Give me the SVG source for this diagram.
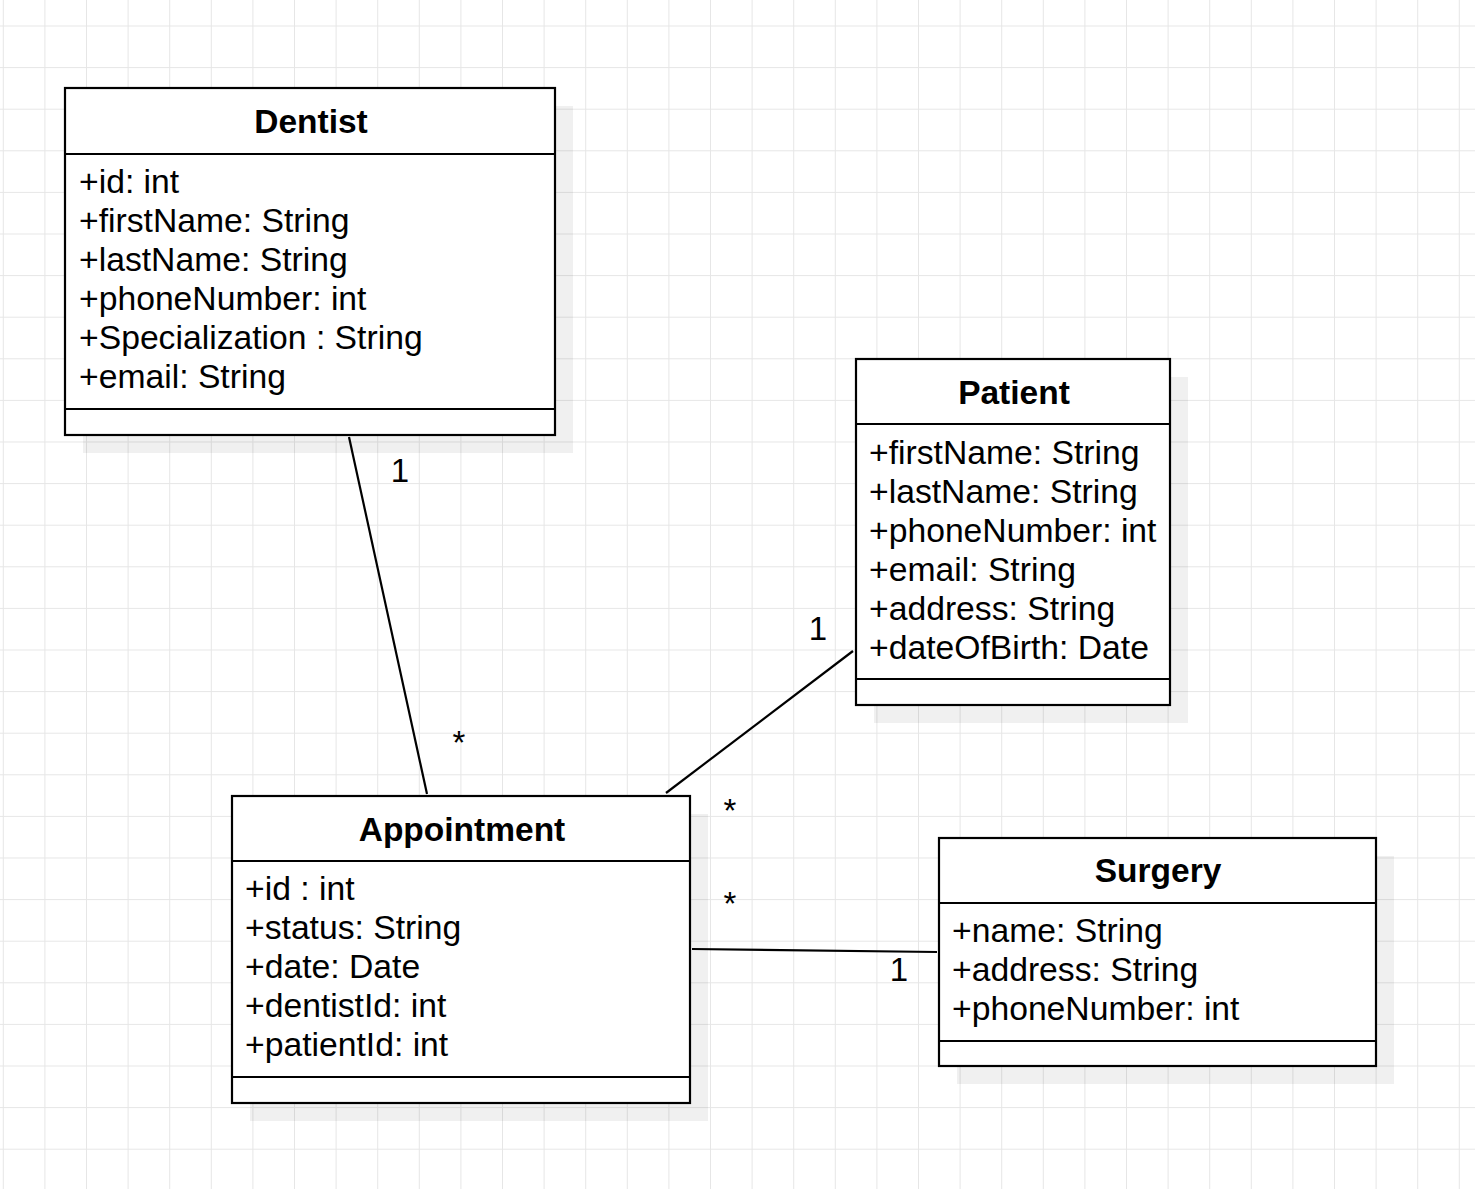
<svg xmlns="http://www.w3.org/2000/svg" width="1475" height="1189" viewBox="0 0 1475 1189">
<defs>
<pattern id="grid" patternUnits="userSpaceOnUse" x="2.8" y="25.5" width="41.6" height="41.6">
<path d="M0.5 0 V41.6 M0 0.5 H41.6" stroke="#e6e6e6" stroke-width="1" fill="none"/>
</pattern>
</defs>
<style>
.shadow{fill:#000;fill-opacity:0.06;stroke:none}
.box{fill:#fff;stroke:#000;stroke-width:2.2}
.sep{stroke:#000;stroke-width:2.2;fill:none}
.title{font-family:"Liberation Sans",Arial,sans-serif;font-size:33.5px;font-weight:bold;text-anchor:middle;fill:#000}
.attr{font-family:"Liberation Sans",Arial,sans-serif;font-size:33.7px;fill:#000}
.lbl{font-family:"Liberation Sans",Arial,sans-serif;font-size:33px;text-anchor:middle;fill:#000}
.conn{stroke:#000;stroke-width:2.2;fill:none}
</style>
<rect width="1475" height="1189" fill="#fff"/>
<rect width="1475" height="1189" fill="url(#grid)"/>

<g id="connectors">
<line class="conn" x1="349" y1="437" x2="427" y2="794"/>
<line class="conn" x1="853" y1="651" x2="666" y2="793"/>
<line class="conn" x1="692" y1="949" x2="937" y2="952"/>
<text class="lbl" x="400" y="482">1</text>
<text class="lbl" x="459" y="754">*</text>
<text class="lbl" x="818" y="640">1</text>
<text class="lbl" x="730" y="822">*</text>
<text class="lbl" x="730" y="915">*</text>
<text class="lbl" x="899" y="981">1</text>
</g>

<g id="dentist">
<rect class="shadow" x="83" y="106" width="490" height="347"/>
<rect class="box" x="65" y="88" width="490" height="347"/>
<line class="sep" x1="65" y1="154" x2="555" y2="154"/>
<line class="sep" x1="65" y1="409" x2="555" y2="409"/>
<text class="title" x="311" y="133">Dentist</text>
<text class="attr" x="79" y="193">+id: int</text>
<text class="attr" x="79" y="232">+firstName: String</text>
<text class="attr" x="79" y="271">+lastName: String</text>
<text class="attr" x="79" y="310">+phoneNumber: int</text>
<text class="attr" x="79" y="349">+Specialization : String</text>
<text class="attr" x="79" y="388">+email: String</text>
</g>

<g id="patient">
<rect class="shadow" x="874" y="377" width="314" height="346"/>
<rect class="box" x="856" y="359" width="314" height="346"/>
<line class="sep" x1="856" y1="424" x2="1170" y2="424"/>
<line class="sep" x1="856" y1="679" x2="1170" y2="679"/>
<text class="title" x="1014" y="404">Patient</text>
<text class="attr" x="869" y="464">+firstName: String</text>
<text class="attr" x="869" y="503">+lastName: String</text>
<text class="attr" x="869" y="542">+phoneNumber: int</text>
<text class="attr" x="869" y="581">+email: String</text>
<text class="attr" x="869" y="620">+address: String</text>
<text class="attr" x="869" y="659">+dateOfBirth: Date</text>
</g>

<g id="appointment">
<rect class="shadow" x="250" y="814" width="458" height="307"/>
<rect class="box" x="232" y="796" width="458" height="307"/>
<line class="sep" x1="232" y1="861" x2="690" y2="861"/>
<line class="sep" x1="232" y1="1077" x2="690" y2="1077"/>
<text class="title" x="462" y="841">Appointment</text>
<text class="attr" x="245" y="900">+id : int</text>
<text class="attr" x="245" y="939">+status: String</text>
<text class="attr" x="245" y="978">+date: Date</text>
<text class="attr" x="245" y="1017">+dentistId: int</text>
<text class="attr" x="245" y="1056">+patientId: int</text>
</g>

<g id="surgery">
<rect class="shadow" x="957" y="856" width="437" height="228"/>
<rect class="box" x="939" y="838" width="437" height="228"/>
<line class="sep" x1="939" y1="903" x2="1376" y2="903"/>
<line class="sep" x1="939" y1="1041" x2="1376" y2="1041"/>
<text class="title" x="1158" y="882">Surgery</text>
<text class="attr" x="952" y="942">+name: String</text>
<text class="attr" x="952" y="981">+address: String</text>
<text class="attr" x="952" y="1020">+phoneNumber: int</text>
</g>
</svg>
